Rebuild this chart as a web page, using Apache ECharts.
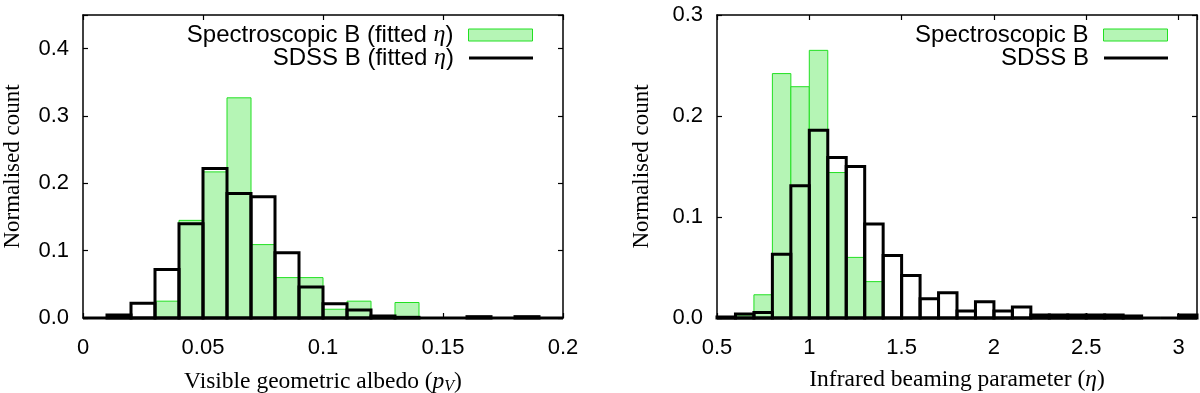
<!DOCTYPE html>
<html>
<head>
<meta charset="utf-8">
<script src="https://cdn.jsdelivr.net/npm/echarts@6/dist/echarts.min.js"></script>
<style>
  html, body { margin: 0; padding: 0; background: #fff; }
  #chart { width: 1200px; height: 393px; }
</style>
</head>
<body>
<div id="chart"></div>
<script>
  // albedo histogram (left), bin lower edges, width 0.01
  var albedoBins = [0, 0.01, 0.02, 0.03, 0.04, 0.05, 0.06, 0.07, 0.08, 0.09,
                    0.10, 0.11, 0.12, 0.13, 0.14, 0.15, 0.16, 0.17, 0.18, 0.19];
  var albedoSpec = [0, 0.003, 0, 0.025, 0.145, 0.217, 0.327, 0.109, 0.060, 0.060,
                    0.013, 0.025, 0, 0.023, 0, 0, 0, 0, 0, 0];
  var albedoSdss = [0, 0.0045, 0.022, 0.072, 0.140, 0.222, 0.185, 0.180, 0.097, 0.046,
                    0.021, 0.012, 0.003, 0.001, 0, 0, 0.002, 0, 0.002, 0];
  var albedoWidth = 0.01;

  // beaming parameter histogram (right), bin lower edges, width 0.1
  var etaBins = [0.5, 0.6, 0.7, 0.8, 0.9, 1.0, 1.1, 1.2, 1.3, 1.4, 1.5, 1.6, 1.7,
                 1.8, 1.9, 2.0, 2.1, 2.2, 2.3, 2.4, 2.5, 2.6, 2.7, 2.8, 2.9, 3.0];
  var etaSpec = [0, 0.003, 0.023, 0.242, 0.229, 0.265, 0.144, 0.060, 0.036, 0, 0, 0, 0,
                 0, 0, 0, 0, 0.003, 0.003, 0.003, 0.003, 0.003, 0, 0, 0, 0.003];
  var etaSdss = [0.001, 0.004, 0.0055, 0.063, 0.131, 0.186, 0.159, 0.150, 0.093, 0.062, 0.042, 0.019, 0.025,
                 0.007, 0.016, 0.007, 0.011, 0.003, 0.003, 0.003, 0.003, 0.003, 0.002, 0, 0, 0.003];
  var etaWidth = 0.1;

  var albedoTicksY = [0, 0.45, 0.1];
  var etaTicksY = [0, 0.3, 0.1];

  var SANS = 'Liberation Sans';
  var SERIF = 'Liberation Serif';
  var greenFill = '#b5f5b5';
  var greenLine = '#22e022';

  function pairs(bins, vals) {
    return bins.map(function (b, i) { return [b, vals[i]]; });
  }

  // each bin: filled box plus its outline; the bottom edge is a separate line so empty bins show too
  function boxes(width, fill, stroke, lw) {
    return function (params, api) {
      var x0 = api.value(0), v = api.value(1);
      var a = api.coord([x0, 0]);
      var b = api.coord([x0, v]);
      var c = api.coord([x0 + width, v]);
      var d = api.coord([x0 + width, 0]);
      var kids = [{
        type: 'line',
        shape: { x1: a[0], y1: a[1], x2: d[0], y2: d[1] },
        style: { stroke: stroke, lineWidth: lw }
      }];
      if (a[1] - b[1] > 0.01) {
        kids.unshift({
          type: 'polygon',
          shape: { points: [a, b, c, d] },
          style: { fill: fill, stroke: stroke, lineWidth: lw, lineJoin: 'miter' }
        });
      }
      return { type: 'group', children: kids };
    };
  }

  function valueAxis(grid, pos, min, max, interval, showLabel, fmt, extra) {
    var ax = {
      type: 'value', gridIndex: grid, position: pos, min: min, max: max, interval: interval,
      splitLine: { show: false },
      axisLine: { show: true, onZero: false, lineStyle: { color: '#000', width: 1.5 } },
      axisTick: { show: true, inside: true, length: 5, lineStyle: { color: '#000', width: 1.2 } },
      axisLabel: { show: showLabel, color: '#000', fontFamily: SANS, fontSize: 22, margin: 14, formatter: fmt }
    };
    for (var k in extra) ax[k] = extra[k];
    return ax;
  }

  var yName = {
    name: 'Normalised count', nameLocation: 'middle', nameGap: 59, nameRotate: 90,
    nameTextStyle: { fontFamily: SERIF, fontSize: 23, color: '#000' }
  };
  var richName = {
    n: { fontFamily: SERIF, fontSize: 23.5, color: '#000' },
    i: { fontFamily: SERIF, fontSize: 23.5, fontStyle: 'italic', color: '#000' },
    s: { fontFamily: SERIF, fontSize: 16, fontStyle: 'italic', color: '#000', padding: [11, 0, 0, 0] }
  };
  var xLabel = { color: '#000', fontFamily: SANS, fontSize: 22, margin: 19 };
  // only label the 0.1 steps (hides the 0.45 limit)
  var fmtY = function (v) {
    return Math.abs(v * 10 - Math.round(v * 10)) < 1e-6 ? v.toFixed(1) : '';
  };
  var fmtX = function (v) { return String(+v.toFixed(2)); };

  var legendRich = {
    a: { fontFamily: SANS, fontSize: 24, color: '#000' },
    e: { fontFamily: SERIF, fontSize: 24, fontStyle: 'italic', color: '#000' }
  };
  function legendFmt(name) {
    if (name.indexOf('η') >= 0) {
      return '{a|' + name.replace(' η)', ' ') + '}{e|η}{a|)}';
    }
    return '{a|' + name + '}';
  }
  function legend(name, right, top, isBox) {
    return {
      data: [{
        name: name, icon: 'rect',
        itemStyle: isBox ? { color: greenFill, borderColor: greenLine, borderWidth: 1 }
                         : { color: '#000', borderWidth: 0 }
      }],
      right: right, top: top, padding: 0, align: 'right',
      itemWidth: 64, itemHeight: isBox ? 12 : 3,
      selectedMode: false,
      formatter: legendFmt,
      textStyle: { rich: legendRich, padding: [0, 10, 0, 0] }
    };
  }

  var chart = echarts.init(document.getElementById('chart'));
  var option = {
    backgroundColor: '#fff',
    animation: false,
    grid: [
      { left: 83, right: 637, top: 15, bottom: 75, outerBoundsMode: 'none', containLabel: false },
      { left: 717, right: 3, top: 15, bottom: 75, outerBoundsMode: 'none', containLabel: false }
    ],
    legend: [
      legend('Spectroscopic B (fitted η)', 667, 23, true),
      legend('SDSS B (fitted η)', 667, 46, false),
      legend('Spectroscopic B', 32, 23, true),
      legend('SDSS B', 32, 46, false)
    ],
    xAxis: [
      valueAxis(0, 'bottom', 0, 0.2, 0.05, true, fmtX, {
        name: '{n|Visible geometric albedo (}{i|p}{s|V}{n|)}', nameLocation: 'middle', nameGap: 50,
        nameTextStyle: { rich: richName },
        axisLabel: Object.assign({ formatter: fmtX }, xLabel)
      }),
      valueAxis(0, 'top', 0, 0.2, 0.05, false, fmtX, {}),
      valueAxis(1, 'bottom', 0.5, 3.1, 0.5, true, fmtX, {
        name: '{n|Infrared beaming parameter (}{i|η}{n|)}', nameLocation: 'middle', nameGap: 50,
        nameTextStyle: { rich: richName },
        axisLabel: Object.assign({ formatter: fmtX }, xLabel)
      }),
      valueAxis(1, 'top', 0.5, 3.1, 0.5, false, fmtX, {})
    ],
    yAxis: [
      valueAxis(0, 'left', albedoTicksY[0], albedoTicksY[1], albedoTicksY[2], true, fmtY, yName),
      valueAxis(0, 'right', albedoTicksY[0], albedoTicksY[1], albedoTicksY[2], false, fmtY, {}),
      valueAxis(1, 'left', etaTicksY[0], etaTicksY[1], etaTicksY[2], true, fmtY,
        Object.assign({}, yName, { nameGap: 64 })),
      valueAxis(1, 'right', etaTicksY[0], etaTicksY[1], etaTicksY[2], false, fmtY, {})
    ],
    series: [
      {
        name: 'Spectroscopic B (fitted η)', type: 'custom', xAxisIndex: 0, yAxisIndex: 0, clip: false,
        itemStyle: { color: greenFill },
        encode: { x: 0, y: 1 }, data: pairs(albedoBins, albedoSpec),
        renderItem: boxes(albedoWidth, greenFill, greenLine, 1)
      },
      {
        name: 'SDSS B (fitted η)', type: 'custom', xAxisIndex: 0, yAxisIndex: 0, clip: false,
        itemStyle: { color: '#000' },
        encode: { x: 0, y: 1 }, data: pairs(albedoBins, albedoSdss),
        renderItem: boxes(albedoWidth, 'none', '#000', 3)
      },
      {
        name: 'Spectroscopic B', type: 'custom', xAxisIndex: 2, yAxisIndex: 2, clip: false,
        itemStyle: { color: greenFill },
        encode: { x: 0, y: 1 }, data: pairs(etaBins, etaSpec),
        renderItem: boxes(etaWidth, greenFill, greenLine, 1)
      },
      {
        name: 'SDSS B', type: 'custom', xAxisIndex: 2, yAxisIndex: 2, clip: false,
        itemStyle: { color: '#000' },
        encode: { x: 0, y: 1 }, data: pairs(etaBins, etaSdss),
        renderItem: boxes(etaWidth, 'none', '#000', 3)
      }
    ]
  };
  chart.setOption(option);
</script>
</body>
</html>
